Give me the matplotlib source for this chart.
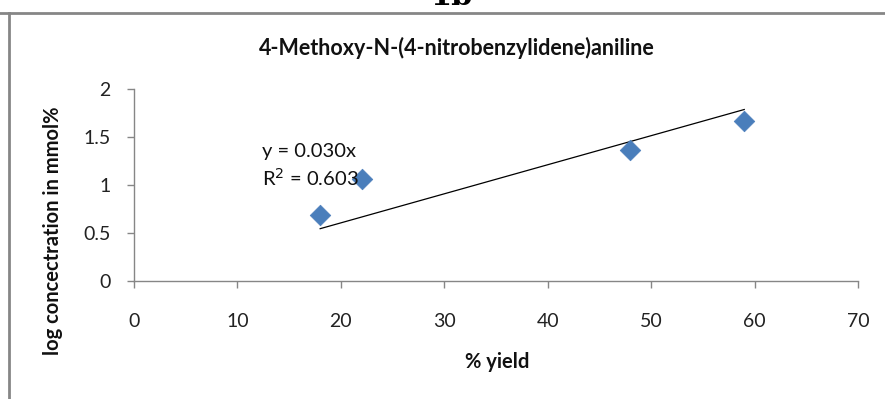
import matplotlib
matplotlib.use("Agg")
import matplotlib.pyplot as plt
from matplotlib.lines import Line2D
import numpy as np

# Data
yield_pct = [18, 22, 48, 59]
log_conc = [0.69, 1.06, 1.365, 1.667]
x_ticks = [0, 10, 20, 30, 40, 50, 60, 70]
y_ticks = [0, 0.5, 1, 1.5, 2]
y_tick_labels = ["0", "0.5", "1", "1.5", "2"]
title = "4-Methoxy-N-(4-nitrobenzylidene)aniline"
x_label = "% yield"
y_label = "log concectration in mmol%"
eq_text = "y = 0.030x"
r2_text = "R$^2$ = 0.603"

W, H = 885, 399
fig = plt.figure(figsize=(W / 100, H / 100), dpi=100)
plt.rcParams['font.family'] = ['Lato', 'DejaVu Sans']

def px(x, y):
    return x / W, 1 - y / H

ax_left, ax_top = px(134, 89)
ax_right, ax_bottom = px(858, 281)
ax = fig.add_axes([ax_left, ax_bottom, ax_right - ax_left, ax_top - ax_bottom])

grey = "#868686"
ax.scatter(yield_pct, log_conc, marker="D", s=110, color="#4A7EBB",
           edgecolors="#4A7EBB", linewidths=0.5, zorder=3)

# Linear trendline through origin (least squares)
xs = np.array(yield_pct, float)
ys = np.array(log_conc, float)
slope = (xs * ys).sum() / (xs * xs).sum()
xl = np.array([xs.min(), xs.max()])
ax.plot(xl, slope * xl, color="black", lw=0.9, zorder=2)

ax.set_xlim(0, 70)
ax.set_ylim(0, 2)
ax.set_xticks(x_ticks)
ax.set_yticks(y_ticks)
ax.set_yticklabels(y_tick_labels)
for s in ["top", "right"]:
    ax.spines[s].set_visible(False)
for s in ["left", "bottom"]:
    ax.spines[s].set_color(grey)
    ax.spines[s].set_linewidth(1.0)
ax.tick_params(axis="both", direction="out", length=5, width=1.0, color=grey,
               labelsize=14, labelcolor="#222222")
ax.tick_params(axis="x", pad=18)
ax.tick_params(axis="y", pad=12)

fig.text(*px(457, 48), title, ha="center", va="center", fontsize=15.5,
         fontweight="bold", color="#111111")
fig.text(*px(497, 362), x_label, ha="center", va="center", fontsize=14.5,
         fontweight="bold", color="#111111")
fig.text(*px(53, 231), y_label, ha="center", va="center", rotation=90,
         fontsize=14.5, fontweight="bold", color="#111111")
fig.text(*px(262, 151), eq_text, ha="left", va="center", fontsize=14.5, color="#111111")
fig.text(*px(262, 178), r2_text, ha="left", va="center", fontsize=14.5, color="#111111")

# "1b" header, clipped at top
fig.text(*px(452, 5), "1b", ha="center", va="baseline", fontsize=22,
         fontweight="bold", family="DejaVu Serif", color="black")

# Outer chart frame (top and left edges)
fig.add_artist(Line2D([0, 1], [1 - 13 / H, 1 - 13 / H], transform=fig.transFigure,
                      color="#868686", lw=2))
fig.add_artist(Line2D([9 / W, 9 / W], [0, 1 - 13 / H], transform=fig.transFigure,
                      color="#868686", lw=2))

fig.savefig("out.png", dpi=100)
